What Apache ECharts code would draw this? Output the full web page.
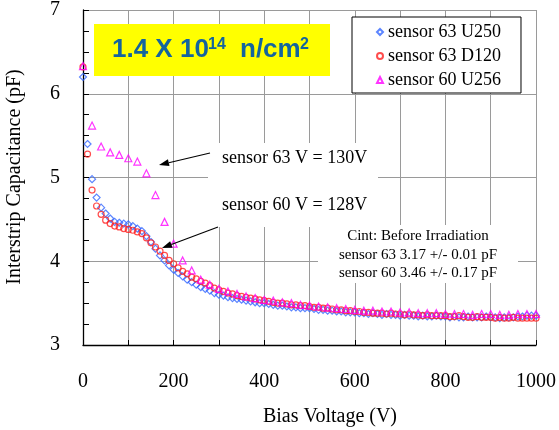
<!DOCTYPE html>
<html>
<head>
<meta charset="utf-8">
<script src="https://cdn.jsdelivr.net/npm/echarts@6/dist/echarts.min.js"></script>
<style>
  html, body { margin: 0; padding: 0; background: #fff; }
  #chart { width: 559px; height: 430px; }
</style>
</head>
<body>
<div id="chart"></div>
<script>
// bias voltage steps (V)
const volts10 = [0, 10, 20, 30, 40, 50, 60, 70, 80, 90, 100, 110, 120, 130, 140, 150, 160, 170, 180, 190,
  200, 210, 220, 230, 240, 250, 260, 270, 280, 290, 300, 310, 320, 330, 340, 350, 360, 370, 380, 390,
  400, 410, 420, 430, 440, 450, 460, 470, 480, 490, 500, 510, 520, 530, 540, 550, 560, 570, 580, 590,
  600, 610, 620, 630, 640, 650, 660, 670, 680, 690, 700, 710, 720, 730, 740, 750, 760, 770, 780, 790,
  800, 810, 820, 830, 840, 850, 860, 870, 880, 890, 900, 910, 920, 930, 940, 950, 960, 970, 980, 990, 1000]
const volts20 = [0, 20, 40, 60, 80, 100, 120, 140, 160, 180, 200, 220, 240, 260, 280, 300, 320, 340, 360, 380,
  400, 420, 440, 460, 480, 500, 520, 540, 560, 580, 600, 620, 640, 660, 680, 700, 720, 740, 760, 780,
  800, 820, 840, 860, 880, 900, 920, 940, 960, 980, 1000]

// interstrip capacitance (pF)
const s63U250 = [6.20, 5.40, 4.98, 4.76, 4.64, 4.57, 4.51, 4.47, 4.46, 4.45, 4.44, 4.42, 4.39, 4.36, 4.30, 4.23, 4.15, 4.07, 4.01, 3.95,
  3.90, 3.86, 3.82, 3.78, 3.75, 3.72, 3.69, 3.67, 3.65, 3.62, 3.60, 3.59, 3.57, 3.56, 3.55, 3.54, 3.53, 3.52, 3.51, 3.50,
  3.50, 3.49, 3.48, 3.47, 3.47, 3.46, 3.45, 3.45, 3.44, 3.44, 3.44, 3.43, 3.42, 3.42, 3.41, 3.41, 3.40, 3.40, 3.39, 3.39,
  3.39, 3.38, 3.38, 3.37, 3.38, 3.37, 3.36, 3.37, 3.36, 3.36, 3.35, 3.36, 3.35, 3.35, 3.34, 3.35, 3.34, 3.34, 3.35, 3.34,
  3.34, 3.33, 3.34, 3.33, 3.33, 3.34, 3.33, 3.33, 3.33, 3.34, 3.33, 3.33, 3.32, 3.33, 3.33, 3.33, 3.34, 3.34, 3.35, 3.35, 3.35]
const s63D120 = [6.32, 5.28, 4.85, 4.66, 4.56, 4.49, 4.45, 4.42, 4.41, 4.39, 4.38, 4.37, 4.35, 4.33, 4.28, 4.22, 4.17, 4.12, 4.07, 4.01,
  3.97, 3.92, 3.88, 3.85, 3.81, 3.79, 3.76, 3.74, 3.71, 3.68, 3.66, 3.64, 3.62, 3.61, 3.59, 3.58, 3.57, 3.56, 3.55, 3.54,
  3.53, 3.52, 3.51, 3.50, 3.50, 3.49, 3.48, 3.48, 3.47, 3.47, 3.46, 3.45, 3.45, 3.44, 3.44, 3.43, 3.42, 3.42, 3.41, 3.41,
  3.40, 3.40, 3.39, 3.39, 3.38, 3.38, 3.38, 3.37, 3.38, 3.37, 3.37, 3.36, 3.37, 3.36, 3.36, 3.35, 3.36, 3.35, 3.35, 3.35,
  3.35, 3.34, 3.34, 3.35, 3.34, 3.33, 3.33, 3.34, 3.33, 3.33, 3.33, 3.32, 3.33, 3.32, 3.32, 3.33, 3.32, 3.32, 3.32, 3.32, 3.32]
const s60U256 = [6.33, 5.62, 5.37, 5.30, 5.27, 5.23, 5.19, 5.05, 4.79, 4.47, 4.21, 4.01, 3.89, 3.78, 3.72, 3.67, 3.64, 3.61, 3.58, 3.56,
  3.54, 3.53, 3.51, 3.50, 3.48, 3.47, 3.46, 3.45, 3.44, 3.43, 3.42, 3.41, 3.41, 3.40, 3.40, 3.39, 3.39, 3.38, 3.38, 3.38,
  3.37, 3.37, 3.37, 3.36, 3.37, 3.37, 3.36, 3.36, 3.37, 3.37, 3.37]

const serif = "'Liberation Serif', 'Times New Roman', serif"
const sans = "'Liberation Sans', Arial, sans-serif"
const gridColor = '#9a9a9a'
const titleBlue = '#14649e'

function pairs(xs, ys) {
  return xs.map((x, i) => [x, ys[i]])
}

// arrow line with a filled head at (x2, y2)
function arrow(x1, y1, x2, y2) {
  const dx = x2 - x1
  const dy = y2 - y1
  const len = Math.sqrt(dx * dx + dy * dy)
  const ux = dx / len
  const uy = dy / len
  const bx = x2 - ux * 10
  const by = y2 - uy * 10
  return [
    { type: 'line', z: 20, shape: { x1: x1, y1: y1, x2: bx, y2: by }, style: { stroke: '#000', lineWidth: 1.2 } },
    {
      type: 'polygon',
      z: 20,
      shape: { points: [[x2, y2], [bx - uy * 3.5, by + ux * 3.5], [bx + uy * 3.5, by - ux * 3.5]] },
      style: { fill: '#000' }
    }
  ]
}

function titlePart(text, x, y, size) {
  return {
    type: 'text', z: 11, x: x, y: y,
    style: { text: text, fontFamily: sans, fontSize: size, fontWeight: 'bold', fill: titleBlue, verticalAlign: 'middle' }
  }
}

const chart = echarts.init(document.getElementById('chart'))

chart.setOption({
  animation: false,
  grid: { left: 83, right: 21, top: 8, bottom: 85 },
  legend: {
    orient: 'vertical',
    left: 352,
    top: 17,
    padding: [6, 20, 4, 24],
    itemGap: 6,
    itemWidth: 6,
    itemHeight: 6,
    backgroundColor: '#fff',
    borderColor: '#000',
    borderWidth: 1,
    textStyle: { fontFamily: serif, fontSize: 18, color: '#000' },
    data: ['sensor 63 U250', 'sensor 63 D120', 'sensor 60 U256']
  },
  xAxis: {
    type: 'value',
    min: 0,
    max: 1000,
    interval: 200,
    axisLine: { lineStyle: { color: '#000', width: 1.3 } },
    axisTick: { inside: true, length: 5, lineStyle: { color: '#000' } },
    minorTick: { show: true, splitNumber: 2, length: 5, lineStyle: { color: '#000' } },
    axisLabel: { margin: 27, fontFamily: serif, fontSize: 20, color: '#000', formatter: v => String(v) },
    splitLine: { show: true, lineStyle: { color: gridColor, width: 1 } },
    minorSplitLine: { show: true, lineStyle: { color: gridColor, width: 1 } }
  },
  yAxis: {
    type: 'value',
    min: 3,
    max: 7,
    interval: 1,
    axisLine: { lineStyle: { color: '#000', width: 1.3 } },
    axisTick: { inside: true, length: 6, lineStyle: { color: '#000' } },
    minorTick: { show: true, splitNumber: 4, length: 6, lineStyle: { color: '#000' } },
    axisLabel: { margin: 23, fontFamily: serif, fontSize: 20, color: '#000' },
    splitLine: { show: true, lineStyle: { color: gridColor, width: 1 } }
  },
  series: [
    {
      name: 'sensor 63 U250',
      type: 'scatter',
      symbol: 'diamond',
      symbolSize: 7,
      itemStyle: { color: 'rgba(255,255,255,0)', borderColor: '#3366ff', borderWidth: 1.2 },
      data: pairs(volts10, s63U250)
    },
    {
      name: 'sensor 63 D120',
      type: 'scatter',
      symbol: 'circle',
      symbolSize: 6,
      itemStyle: { color: 'rgba(255,255,255,0)', borderColor: '#ff2020', borderWidth: 1.2 },
      data: pairs(volts10, s63D120)
    },
    {
      name: 'sensor 60 U256',
      type: 'scatter',
      symbol: 'triangle',
      symbolSize: 7,
      itemStyle: { color: 'rgba(255,255,255,0)', borderColor: '#ff00ff', borderWidth: 1.2 },
      data: pairs(volts20, s60U256)
    }
  ],
  graphic: [
    // yellow fluence box
    { type: 'rect', z: 10, shape: { x: 94, y: 24, width: 236, height: 52 }, style: { fill: '#ffff00' } },
    titlePart('1.4 X 10', 112, 50, 26),
    titlePart('14', 208, 45, 16),
    titlePart('n/cm', 240, 50, 26),
    titlePart('2', 300, 45, 16),
    // white boxes behind annotations
    { type: 'rect', z: 1, shape: { x: 208, y: 143, width: 170, height: 84 }, style: { fill: '#fff' } },
    { type: 'rect', z: 1, shape: { x: 318, y: 225, width: 200, height: 58 }, style: { fill: '#fff' } },
    {
      type: 'text', z: 20, x: 222, y: 158,
      style: { text: 'sensor 63 V = 130V', fontFamily: serif, fontSize: 18, fill: '#000', verticalAlign: 'middle' }
    },
    {
      type: 'text', z: 20, x: 222, y: 205,
      style: { text: 'sensor 60 V = 128V', fontFamily: serif, fontSize: 18, fill: '#000', verticalAlign: 'middle' }
    },
    ...arrow(210, 153, 159, 165),
    ...arrow(218, 227, 162, 248),
    {
      type: 'text', z: 20, x: 418, y: 227,
      style: {
        text: 'Cint: Before Irradiation\nsensor 63 3.17 +/- 0.01 pF\nsensor 60 3.46 +/- 0.17 pF',
        fontFamily: serif, fontSize: 15, lineHeight: 18.5, fill: '#000', align: 'center', verticalAlign: 'top'
      }
    },
    // axis titles
    {
      type: 'text', z: 20, x: 330, y: 417,
      style: { text: 'Bias Voltage (V)', fontFamily: serif, fontSize: 20, fill: '#000', align: 'center', verticalAlign: 'middle' }
    },
    {
      type: 'text', z: 20, x: 15, y: 177, rotation: Math.PI / 2,
      style: { text: 'Interstrip Capacitance (pF)', fontFamily: serif, fontSize: 20, fill: '#000', align: 'center', verticalAlign: 'middle' }
    }
  ]
})
</script>
</body>
</html>
